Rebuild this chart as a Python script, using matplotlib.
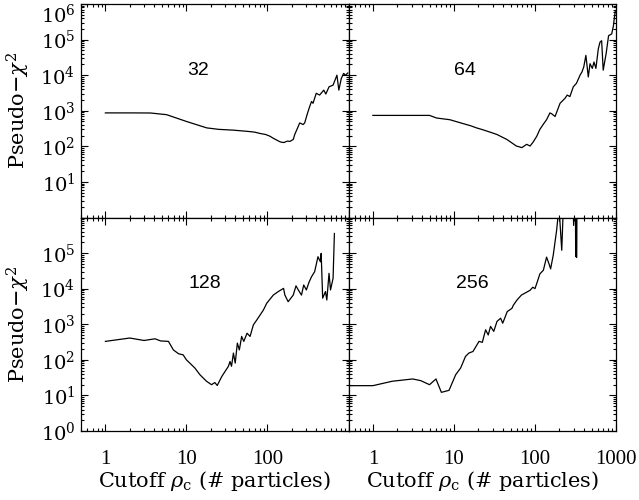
import matplotlib
matplotlib.use("Agg")
import matplotlib.pyplot as plt
from matplotlib.ticker import FixedLocator, FixedFormatter, LogLocator, NullFormatter

plt.rcParams['font.family'] = ['DejaVu Serif']
plt.rcParams['mathtext.fontset'] = 'dejavuserif'

# ---- data ----
x32 = [1, 2, 3.6, 5.7, 10, 17.8, 25, 38, 55, 62, 70, 81, 95, 107, 120, 142, 150,
       160, 175, 190, 208, 217, 240, 250, 275, 288, 308, 332, 350, 365, 400, 440,
       495, 525, 575, 645, 720, 760, 815, 870, 920, 980]
y32 = [870, 870, 865, 775, 500, 330, 300, 285, 265, 258, 250, 230, 215, 193, 165,
       135, 130, 128, 140, 138, 156, 215, 365, 455, 410, 455, 775, 1320, 1820, 1620,
       3100, 2760, 3800, 2950, 4700, 5250, 10000, 3800, 8100, 11200, 10000, 11500]

x64 = [1, 3, 5.0, 6.1, 8.9, 13, 16, 19, 23, 28, 34, 45, 59, 69, 79, 87, 95, 105,
       115, 127, 139, 153, 161, 177, 204, 235, 250, 270, 297, 325, 360, 380, 400,
       425, 455, 478, 510, 535, 565, 605, 635, 665, 695, 755, 810, 885, 930, 955, 980]
y64 = [740, 740, 740, 625, 560, 435, 380, 330, 290, 250, 215, 156, 102, 92, 114,
       102, 132, 190, 300, 420, 560, 870, 820, 690, 1620, 2240, 2760, 2500, 4700,
       5900, 10000, 12300, 17000, 36000, 8900, 21000, 15500, 23400, 15500, 55000,
       85000, 93000, 13800, 40000, 129000, 144000, 245000, 420000, 630000]

x128 = [1, 2, 3, 4.1, 4.8, 6.0, 6.9, 8.0, 9.1, 10, 12.7, 14.7, 17.7, 20.4, 22.4,
        24, 27.3, 33, 34.5, 36, 38, 40, 42.5, 45, 48, 51, 56, 61, 67, 74, 89, 98,
        118, 136, 158, 164, 180, 208, 225, 240, 263, 280, 302, 325, 350, 382, 420,
        450, 460, 480, 520, 540, 575, 600, 645, 670]
y128 = [330, 410, 350, 390, 340, 330, 190, 148, 138, 100, 59, 38, 25, 20, 23, 19,
        34, 66, 90, 66, 155, 81, 295, 190, 455, 330, 560, 455, 960, 1330, 2500,
        3900, 6600, 8300, 10200, 6600, 4300, 6600, 12000, 9200, 6600, 12700, 9200,
        15000, 21700, 30000, 79000, 57000, 98000, 5400, 8300, 4800, 27000, 9200,
        19500, 355000]

x256 = [0.5, 1, 1.73, 3.1, 3.9, 5.0, 6.0, 7.0, 8.7, 10.5, 12.1, 13.9, 15.3, 17.2,
        20.4, 22.4, 24.6, 26.5, 28.3, 31, 34, 37.7, 40, 45.5, 52, 54, 60, 68, 87,
        94, 100, 105, 115, 127, 139, 149, 156, 168, 185, 198, 214, 224, 260, 295,
        300, 310, 316, 318, 320, 322, 324, 326, 330]
y256 = [18.8, 18.8, 25, 29, 26, 20, 29, 12.2, 13.9, 38, 59, 125, 155, 172, 330,
        310, 700, 500, 870, 630, 1200, 1480, 1070, 2270, 2800, 3400, 4800, 6600,
        9000, 11000, 10000, 13800, 26000, 33000, 77000, 50000, 36000, 87000,
        435000, 2000000, 120000, 2000000, 3000000, 3000000, 600000, 3000000,
        2000000, 80000, 2000000, 90000, 2000000, 75000, 2000000]

series = [(x32, y32, "32"), (x64, y64, "64"), (x128, y128, "128"), (x256, y256, "256")]
xticks = [1, 10, 100, 1000]
xticklabels = ["1", "10", "100", "1000"]
yticks = [1, 10, 100, 1e3, 1e4, 1e5, 1e6]
yticklabels = [r"$10^{%d}$" % i for i in range(7)]

W, H = 639, 500
fig = plt.figure(figsize=(W / 100, H / 100), dpi=100)

xl, xm, xr = 81, 348.5, 616
yt, ym, yb = 4, 217.5, 431
cols = [(xl, xm), (xm, xr)]
rows = [(yt, ym), (ym, yb)]
label_pos = [(0.437, 0.69), (0.435, 0.69), (0.463, 0.689), (0.462, 0.689)]

for i, (xs, ys, name) in enumerate(series):
    r, c = divmod(i, 2)
    x0, x1 = cols[c]
    y0, y1 = rows[r]
    ax = fig.add_axes([x0 / W, 1 - y1 / H, (x1 - x0) / W, (y1 - y0) / H])
    ax.plot(xs, ys, color='black', lw=0.9)
    ax.set_xscale('log')
    ax.set_yscale('log')
    ax.set_xlim(0.5, 1000)
    ax.set_ylim(1, 1e6)
    ax.xaxis.set_major_locator(FixedLocator(xticks))
    ax.yaxis.set_major_locator(FixedLocator(yticks))
    ax.xaxis.set_minor_locator(LogLocator(base=10, subs=range(2, 10), numticks=20))
    ax.yaxis.set_minor_locator(LogLocator(base=10, subs=range(2, 10), numticks=20))
    ax.xaxis.set_minor_formatter(NullFormatter())
    ax.yaxis.set_minor_formatter(NullFormatter())
    xl_ = list(xticklabels)
    yl_ = list(yticklabels)
    if c == 0:
        xl_[3] = ""
    if r == 0:
        yl_[0] = ""
    else:
        yl_[6] = ""
    ax.xaxis.set_major_formatter(FixedFormatter(xl_))
    ax.yaxis.set_major_formatter(FixedFormatter(yl_))
    ax.tick_params(which='both', direction='in', top=True, right=True, width=0.8)
    ax.tick_params(which='major', length=5)
    ax.tick_params(which='minor', length=2.5)
    ax.tick_params(axis='x', pad=13.5, labelsize=15, labelfontfamily='Liberation Serif')
    ax.tick_params(axis='y', pad=4, labelsize=14)
    if r == 0:
        ax.tick_params(axis='x', labelbottom=False)
    if c == 1:
        ax.tick_params(axis='y', labelleft=False)
    for s in ax.spines.values():
        s.set_linewidth(0.9)
    ax.text(label_pos[i][0], label_pos[i][1], name, transform=ax.transAxes,
            ha='center', va='center', fontsize=14, family='Liberation Sans')
    if r == 1:
        ax.set_xlabel(r"Cutoff $\rho_{\rm c}$ (# particles)", fontsize=15)
        ax.xaxis.set_label_coords(0.5, -0.178)
    if r == 0 and c == 0:
        fig.canvas.draw()
        ax.get_yticklabels()[6].set_va('top')

for yc in (110, 324):
    fig.text(18 / W, 1 - yc / H, r"Pseudo$-\chi^2$", rotation=90, ha='center',
             va='center', fontsize=15)

fig.savefig("out.png", dpi=100)
